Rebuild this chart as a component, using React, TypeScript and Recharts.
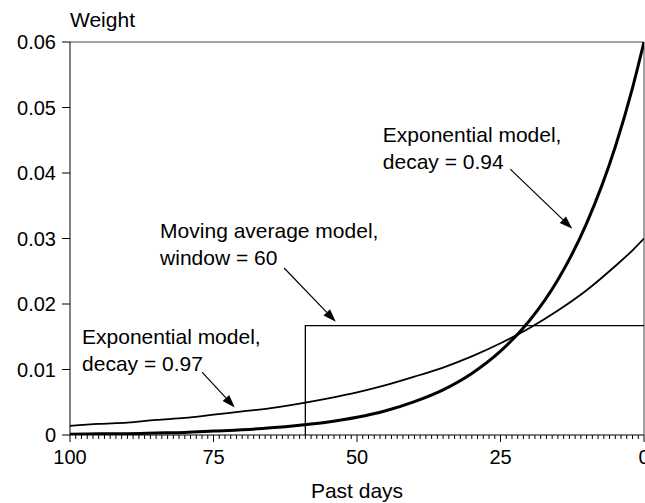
import React from 'react';
import { LineChart, Line, XAxis, YAxis, ReferenceLine, ReferenceDot, Label } from 'recharts';

// Past days sampled (x values)
const days = [0, 2, 5, 10, 15, 20, 25, 30, 35, 40, 45, 50, 55, 60, 65, 70, 75, 80, 85, 90, 95, 100];
// Exponential model, decay = 0.94
const exp94 = [0.06, 0.053, 0.044, 0.0323, 0.0237, 0.0174, 0.0128, 0.0094, 0.0069, 0.0051, 0.0037, 0.0027, 0.002, 0.0015, 0.0011, 0.0008, 0.0006, 0.0004, 0.0003, 0.0002, 0.0002, 0.0001];
// Exponential model, decay = 0.97
const exp97 = [0.03, 0.0282, 0.0258, 0.0221, 0.019, 0.0163, 0.014, 0.012, 0.0103, 0.0089, 0.0076, 0.0065, 0.0056, 0.0048, 0.0041, 0.0036, 0.0031, 0.0026, 0.0023, 0.0019, 0.0017, 0.0014];
// Moving average model, window = 60
const maDays = [59, 59, 0];
const maValues = [0, 0.0167, 0.0167];

const yTicks = [0, 0.01, 0.02, 0.03, 0.04, 0.05, 0.06];
const xMajorTicks = [0, 25, 50, 75, 100];
const xAllTicks = Array.from({ length: 101 }, (_, i) => i);

// Annotations: [text lines, label anchor (day, weight), arrow start, arrow tip]
const annotations = [
  { lines: ['Exponential model,', 'decay = 0.94'], at: [45.5, 0.0448], from: [23.3, 0.0406], to: [12.5, 0.0315] },
  { lines: ['Moving average model,', 'window = 60'], at: [84.3, 0.0301], from: [62.7, 0.0255], to: [53.7, 0.0173] },
  { lines: ['Exponential model,', 'decay = 0.97'], at: [97.9, 0.0139], from: [77, 0.0096], to: [71.3, 0.0042] },
];

const d94 = days.map((d, i) => ({ day: d, v: exp94[i] }));
const d97 = days.map((d, i) => ({ day: d, v: exp97[i] }));
const dma = maDays.map((d, i) => ({ day: d, v: maValues[i] }));

const FONT = '"Liberation Sans", Arial, Helvetica, sans-serif';

const XTick = (props: any) => {
  const { x, y, payload } = props;
  const major = xMajorTicks.includes(payload.value);
  return (
    <g>
      <line x1={x} x2={x} y1={y} y2={y + (major ? 7 : 4)} stroke="#000" strokeWidth={1} />
      {major && (
        <text x={x} y={y + 29} textAnchor="middle" fontSize={20} fontFamily={FONT} fill="#000">
          {payload.value}
        </text>
      )}
    </g>
  );
};

const Arrow = (props: any) => {
  const { x1, y1, x2, y2 } = props;
  const ang = Math.atan2(y2 - y1, x2 - x1);
  const L = 13, W = 4.5;
  const bx = x2 - L * Math.cos(ang), by = y2 - L * Math.sin(ang);
  const px = -Math.sin(ang) * W, py = Math.cos(ang) * W;
  return (
    <g>
      <line x1={x1} y1={y1} x2={bx} y2={by} stroke="#000" strokeWidth={1.2} />
      <polygon points={`${x2},${y2} ${bx + px},${by + py} ${bx - px},${by - py}`} fill="#000" />
    </g>
  );
};

const makeTextShape = (lines: string[]) => (props: any) => {
  const { cx, cy } = props;
  return (
    <text x={cx} y={cy} fontSize={21} fontFamily={FONT} fill="#000">
      {lines.map((l, i) => (
        <tspan key={i} x={cx} dy={i === 0 ? 0 : 27}>{l}</tspan>
      ))}
    </text>
  );
};

export default function App() {
  return (
    <div style={{ position: 'absolute', left: 0, top: 0, width: 645, height: 503, background: '#fff' }}>
      <LineChart width={645} height={503} margin={{ top: 42, right: 1, bottom: 0, left: 0 }}>
        <XAxis
          dataKey="day"
          type="number"
          domain={[0, 100]}
          reversed
          ticks={xAllTicks}
          interval={0}
          tick={<XTick />}
          tickLine={false}
          tickSize={0}
          tickMargin={0}
          height={68}
          axisLine={{ stroke: '#000', strokeWidth: 1 }}
          allowDataOverflow
        >
          <Label value="Past days" position="insideBottom" offset={5} fontSize={21} fontFamily={FONT} fill="#000" />
        </XAxis>
        <YAxis
          type="number"
          domain={[0, 0.06]}
          ticks={yTicks}
          interval={0}
          width={70}
          tickSize={8}
          tickMargin={6}
          tickLine={{ stroke: '#000' }}
          axisLine={{ stroke: '#000', strokeWidth: 1 }}
          tick={{ fontSize: 20, fontFamily: FONT, fill: '#000' }}
          tickFormatter={(v: number) => (v === 0 ? '0' : v.toFixed(2))}
          allowDataOverflow
        >
          <Label
            content={(p: any) => {
              const vb = p.viewBox;
              return (
                <text x={vb.x + vb.width} y={vb.y - 15} fontSize={21} fontFamily={FONT} fill="#000">
                  Weight
                </text>
              );
            }}
          />
        </YAxis>
        <ReferenceLine y={0.06} stroke="#444" strokeWidth={1} ifOverflow="visible" />
        <ReferenceLine x={0} stroke="#444" strokeWidth={1} ifOverflow="visible" />
        <Line data={dma} dataKey="v" type="linear" stroke="#000" strokeWidth={1.3} dot={false} isAnimationActive={false} />
        <Line data={d97} dataKey="v" type="monotone" stroke="#000" strokeWidth={1.8} dot={false} isAnimationActive={false} />
        <Line data={d94} dataKey="v" type="monotone" stroke="#000" strokeWidth={3} dot={false} isAnimationActive={false} />
        {annotations.map((a, i) => (
          <ReferenceLine
            key={'a' + i}
            segment={[{ x: a.from[0], y: a.from[1] }, { x: a.to[0], y: a.to[1] }]}
            ifOverflow="visible"
            shape={(p: any) => <Arrow {...p} />}
          />
        ))}
        {annotations.map((a, i) => (
          <ReferenceDot
            key={'t' + i}
            x={a.at[0]}
            y={a.at[1]}
            r={0}
            ifOverflow="visible"
            shape={makeTextShape(a.lines)}
          />
        ))}
      </LineChart>
    </div>
  );
}
